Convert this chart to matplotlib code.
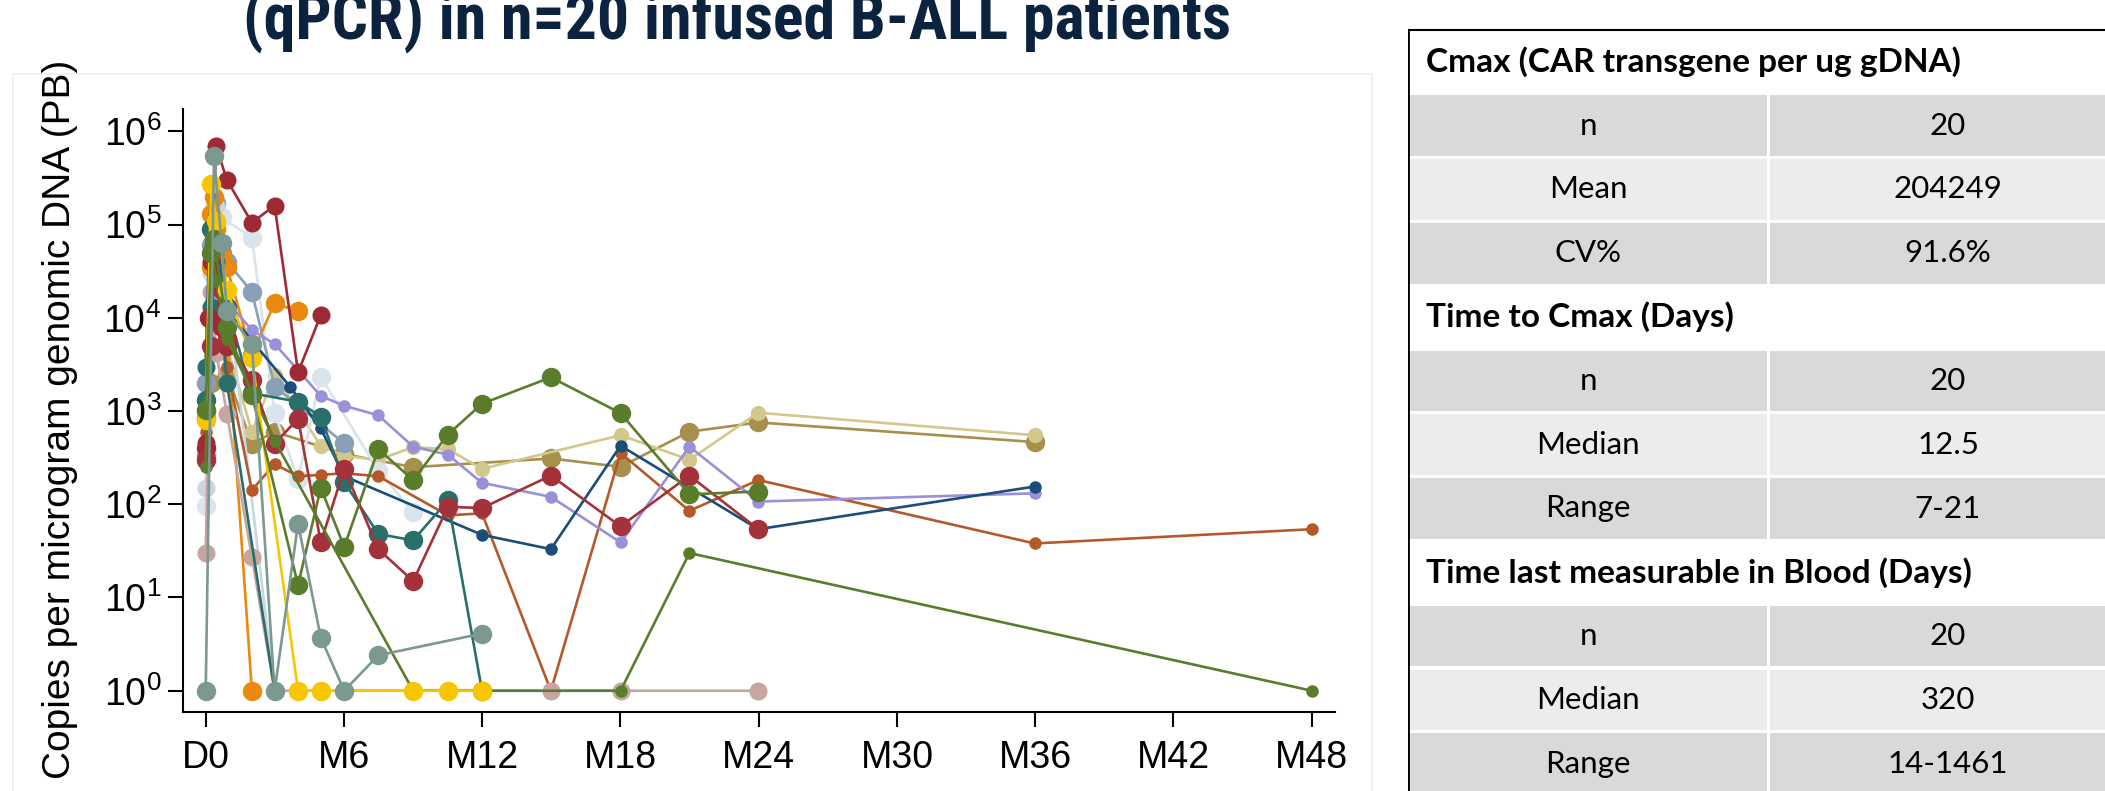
import numpy as np
import matplotlib
matplotlib.use("Agg")
import matplotlib.pyplot as plt
from matplotlib import font_manager
from matplotlib.patches import Rectangle
from matplotlib.ticker import FixedLocator, NullLocator, LogFormatterSciNotation

plt.rcParams['font.family'] = ['Liberation Sans', 'DejaVu Sans']
plt.rcParams['mathtext.fontset'] = 'custom'
plt.rcParams['mathtext.rm'] = 'Liberation Sans'

# CAR transgene copies per ug gDNA, one list pair per patient (days after infusion)
days_p01 = [0, 7, 14, 28, 61, 91, 122, 152]
copies_p01 = [450, 4.0e4, 6.9e5, 3.0e5, 1.05e5, 1.6e5, 2600, 1.07e4]

days_p02 = [0, 7, 11, 21, 28, 61, 91, 122, 152, 183, 228, 274, 320, 365, 456, 548, 639, 730]
copies_p02 = [300, 5000, 6.0e4, 2.0e4, 6000, 2150, 445, 830, 39, 240, 33, 15, 94, 91, 203, 58, 203, 54]

days_p03 = [0, 7, 11, 21, 61]
copies_p03 = [850, 3.5e4, 2.0e5, 5.0e4, 1]

days_p04 = [0, 7, 14, 28, 61, 91, 122]
copies_p04 = [1000, 1.3e5, 9.0e4, 3.5e4, 4000, 1.44e4, 1.17e4]

days_p05 = [0, 7, 14, 28, 61, 122, 152, 274, 320, 365]
copies_p05 = [800, 2.7e5, 1.1e5, 2.0e4, 3700, 1, 1, 1, 1, 1]

days_p06 = [0, 7, 14, 28, 112, 152, 183, 365, 456, 548, 730, 1095]
copies_p06 = [3000, 2.8e5, 6.0e4, 1.2e4, 1800, 650, 200, 47, 33, 425, 54, 155]

days_p07 = [0, 7, 14, 28, 61, 91, 122, 152, 183, 228, 274, 320, 365, 456, 548, 639, 730, 1095]
copies_p07 = [1200, 8000, 3.0e4, 1.5e4, 7400, 5250, 2740, 1450, 1140, 900, 415, 340, 170, 120, 39, 415, 107, 131]

days_p08 = [0, 7, 11, 28, 61, 122, 152, 183, 228, 274, 320, 365, 456, 548, 639, 730]
copies_p08 = [1030, 5.0e4, 7.0e4, 8000, 1500, 13.6, 150, 35, 390, 182, 560, 1200, 2300, 950, 128, 137]

days_p09 = [0, 7, 14, 28, 91, 274, 548, 639, 1461]
copies_p09 = [250, 6.0e4, 2.5e4, 6000, 480, 1, 1, 30, 1]

days_p10 = [0, 7, 14, 28, 61, 91, 122, 152, 183, 228, 320, 365, 456, 548, 639, 730, 1095, 1461]
copies_p10 = [600, 1.5e4, 4.0e4, 3000, 142, 270, 200, 207, 215, 200, 76, 80, 1, 355, 85, 182, 38, 54]

days_p11 = [0, 7, 14, 28, 61, 91, 152, 183, 228, 274, 320, 365, 548, 639, 730, 1095]
copies_p11 = [350, 4000, 2.0e4, 5000, 600, 2450, 425, 330, 300, 410, 390, 240, 550, 300, 960, 550]

days_p12 = [0, 7, 14, 28, 61, 91, 183, 274, 456, 548, 639, 730, 1095]
copies_p12 = [330, 2000, 1.2e4, 2500, 445, 600, 345, 250, 310, 252, 600, 755, 465]

days_p13 = [0, 11, 21, 28, 61, 91, 122, 152, 183, 228, 365]
copies_p13 = [1, 5.4e5, 6.3e4, 1.17e4, 5250, 1, 62, 3.7, 1, 2.4, 4.1]

days_p14 = [0, 7, 14, 28, 61, 122, 152, 183, 228, 274, 320, 365]
copies_p14 = [1300, 9.0e4, 2.5e4, 1.3e4, 1550, 1260, 870, 173, 48, 41, 110, 1]

days_p15 = [0, 11, 21, 61, 91, 122, 152, 228, 274]
copies_p15 = [97, 1.5e5, 1.2e5, 7.2e4, 950, 187, 2340, 230, 82]

days_p16 = [0, 7, 14, 28, 61, 91, 365, 456, 548, 730]
copies_p16 = [30, 1.9e4, 4200, 930, 27, 1, 1, 1, 1, 1]

days_p17 = [0, 7, 14, 28, 61, 91, 183]
copies_p17 = [2000, 6.0e4, 1.7e5, 4.0e4, 1.9e4, 1830, 450]

days_p18 = [0, 7, 14, 28, 91]
copies_p18 = [3000, 1.3e4, 4.0e4, 2000, 1]

days_p19 = [0, 4, 11, 21, 28]
copies_p19 = [400, 1.0e4, 5.0e4, 8000, 5000]

days_p20 = [0, 7, 14, 28, 91]
copies_p20 = [150, 3.0e4, 1.6e5, 2.0e4, 1]

tick_labels = ['D0', 'M6', 'M12', 'M18', 'M24', 'M30', 'M36', 'M42', 'M48']

# summary table
cmax_title = 'Cmax (CAR transgene per ug gDNA)'
cmax_stats = ['n', 'Mean', 'CV%']
cmax_values = ['20', '204249', '91.6%']
tmax_title = 'Time to Cmax (Days)'
tmax_stats = ['n', 'Median', 'Range']
tmax_values = ['20', '12.5', '7-21']
tlast_title = 'Time last measurable in Blood (Days)'
tlast_stats = ['n', 'Median', 'Range']
tlast_values = ['20', '320', '14-1461']

# drawing order: (days, copies, colour, marker size)
patients = [
    (days_p12, copies_p12, '#a78f4c', 14),
    (days_p11, copies_p11, '#d2c88b', 11),
    (days_p15, copies_p15, '#dae4ec', 14),
    (days_p17, copies_p17, '#89a0b8', 14),
    (days_p20, copies_p20, '#c9d6df', 13),
    (days_p03, copies_p03, '#e9890f', 14),
    (days_p04, copies_p04, '#e9890f', 14),
    (days_p10, copies_p10, '#b5592b', 9),
    (days_p16, copies_p16, '#c7a5a1', 13),
    (days_p07, copies_p07, '#9a8fd9', 9),
    (days_p06, copies_p06, '#1a4d7a', 9),
    (days_p14, copies_p14, '#2a6f69', 14),
    (days_p18, copies_p18, '#2a6f69', 13),
    (days_p01, copies_p01, '#9e2b34', 13),
    (days_p19, copies_p19, '#9e2b34', 14),
    (days_p02, copies_p02, '#a3323b', 14),
    (days_p09, copies_p09, '#5a7d2c', 9),
    (days_p05, copies_p05, '#f7c600', 14),
    (days_p08, copies_p08, '#5a7d2c', 14),
    (days_p13, copies_p13, '#7b9891', 14),
]

W, H = 2105, 791
fig = plt.figure(figsize=(W / 100, H / 100), dpi=100)

# light frame of the plot picture
fig.patches.append(Rectangle((13 / W, -0.01), (1372 - 13) / W, (H - 74) / H + 0.01,
                             transform=fig.transFigure, fill=False, ec='#efefef', lw=1.2))

ax = fig.add_axes([182.7 / W, (H - 711.7) / H, (1335 - 182.7) / W, (711.7 - 109) / H])
for d, c, col, ms in patients:
    ax.plot(d, c, '-o', color=col, lw=1.9, ms=ms, mec=col, mew=0, clip_on=False)

ax.set_yscale('log')
ax.set_ylim(10 ** -0.225, 10 ** 6.24)
ax.set_xlim(-30.4, 1491.8)
ax.xaxis.set_major_locator(FixedLocator(np.arange(9) * 1461 / 8))
ax.set_xticklabels(tick_labels)
ax.yaxis.set_major_locator(FixedLocator([10.0 ** k for k in range(7)]))
ax.yaxis.set_major_formatter(LogFormatterSciNotation())
ax.yaxis.set_minor_locator(NullLocator())
for s in ['top', 'right']:
    ax.spines[s].set_visible(False)
for s in ['left', 'bottom']:
    ax.spines[s].set_linewidth(1.5)
ax.tick_params(axis='both', length=10.5, width=1.5, labelsize=27)
ax.tick_params(axis='y', pad=5)
ax.tick_params(axis='x', pad=10)

fig.text(60 / W, 0.47, 'Copies per microgram genomic DNA (PB)', rotation=90,
         ha='center', va='center', fontsize=28)

# title, its upper part runs off the top edge
names = {f.name for f in font_manager.fontManager.ttflist}
dejavu_cond = any(f.name == 'DejaVu Sans' and 'condensed' in str(f.stretch)
                  for f in font_manager.fontManager.ttflist)
title_kw = dict(family='Liberation Sans', fontsize=40)
for narrow in ['Liberation Sans Narrow', 'Roboto Condensed', 'Open Sans Condensed']:
    if narrow in names:
        title_kw = dict(family=narrow, fontsize=46)
        break
else:
    if dejavu_cond:
        title_kw = dict(family='DejaVu Sans', fontstretch='condensed', fontsize=40)
fig.text(737 / W, (H - 39) / H, '(qPCR) in n=20 infused B-ALL patients', ha='center',
         va='baseline', fontweight='bold', color='#0c2340', **title_kw)

# summary table on the right
tab = fig.add_axes([1408 / W, 0, (W - 1408) / W, 1])
tab.set_xlim(1408, W)
tab.set_ylim(H, 0)
tab.axis('off')

top, rh = 30, 63.8
col_split = 1768
row = 0
sections = [(cmax_title, cmax_stats, cmax_values),
            (tmax_title, tmax_stats, tmax_values),
            (tlast_title, tlast_stats, tlast_values)]
for title, stats, values in sections:
    y0 = top + row * rh
    tab.text(1426, y0 + rh / 2, title, ha='left', va='center', fontsize=24,
             fontweight='bold', family='Lato')
    row += 1
    for i, (lab, val) in enumerate(zip(stats, values)):
        y0 = top + row * rh
        fc = '#d9d9d9' if i % 2 == 0 else '#ececec'
        tab.add_patch(Rectangle((1408, y0 + 1.5), col_split - 1.5 - 1408, rh - 3, fc=fc, ec='none'))
        tab.add_patch(Rectangle((col_split + 1.5, y0 + 1.5), 2130 - col_split, rh - 3, fc=fc, ec='none'))
        tab.text((1408 + col_split) / 2, y0 + rh / 2, lab, ha='center', va='center',
                 fontsize=22.5, family='Lato')
        tab.text(1948, y0 + rh / 2, val, ha='center', va='center', fontsize=22.5, family='Lato')
        row += 1

tab.plot([1408, 1408], [top, H], color='black', lw=2, solid_capstyle='butt')
tab.plot([1408, W], [top, top], color='black', lw=1.5, solid_capstyle='butt')

fig.savefig('out.png', dpi=100)
